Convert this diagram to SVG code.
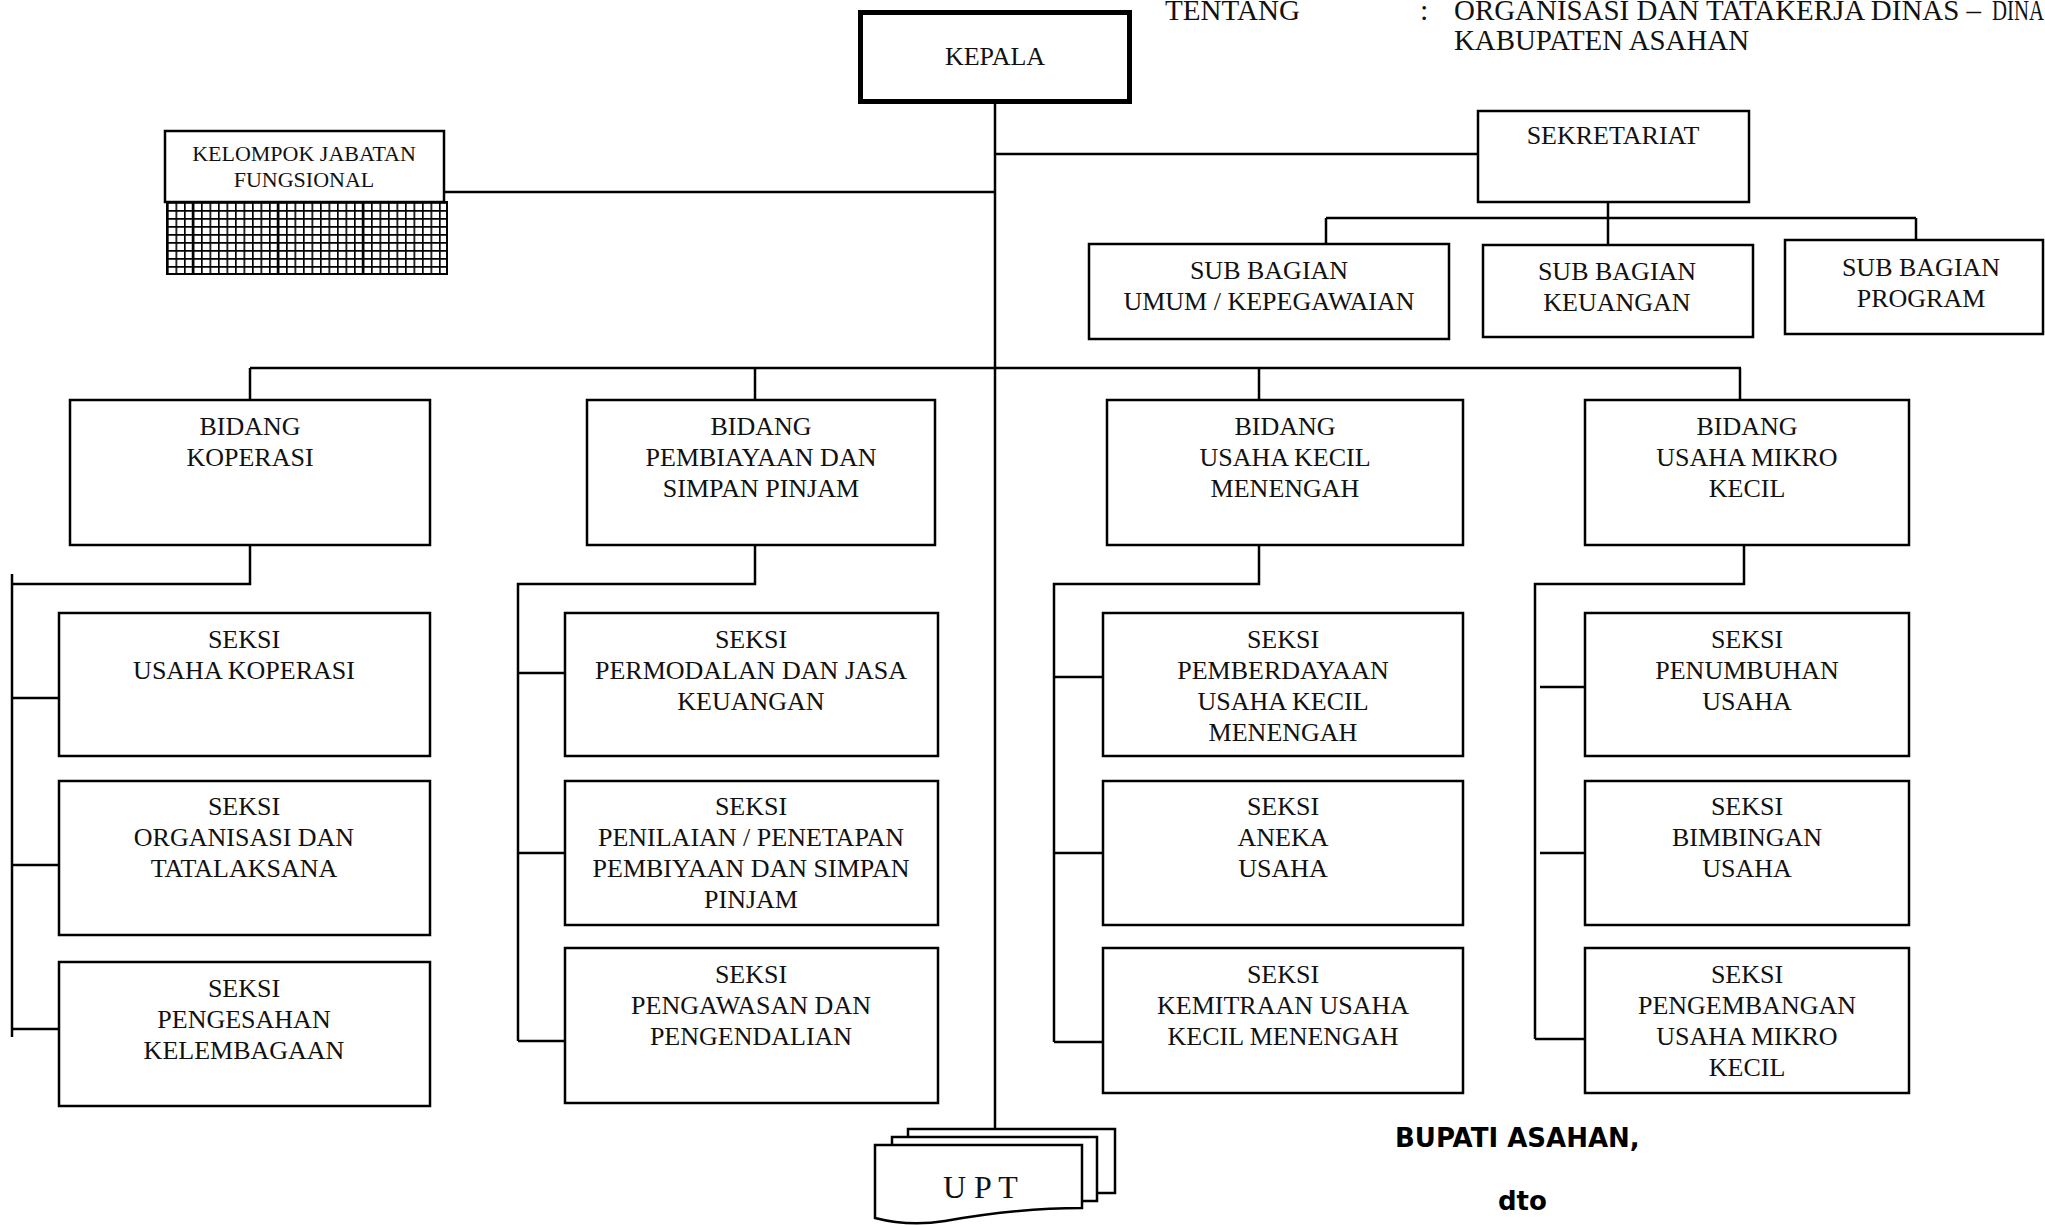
<svg xmlns="http://www.w3.org/2000/svg" width="2045" height="1225" viewBox="0 0 2045 1225">
  <defs>
    <style>
      .box { fill: #fff; stroke: #000; stroke-width: 2.5; }
      .ln { fill: none; stroke: #000; stroke-width: 2.5; }
      .t { font-family: "Liberation Serif", "Times New Roman", serif; font-size: 26px; fill: #111; text-anchor: middle; }
      .hd { font-family: "Liberation Serif", "Times New Roman", serif; font-size: 30px; fill: #111; }
      .sig { font-family: "DejaVu Sans", Verdana, sans-serif; font-size: 26px; font-weight: bold; fill: #000; }
    </style>
    <pattern id="grid" patternUnits="userSpaceOnUse" x="167" y="202" width="8.5" height="8">
      <rect width="8.5" height="8" fill="#fff"/>
      <path d="M0.8 0 V8 M0 0.8 H8.5" stroke="#000" stroke-width="1.7"/>
    </pattern>
  </defs>
  <rect width="2045" height="1225" fill="#fff"/>

  <!-- heading text at top right -->
  <g id="heading">
    <text class="hd" x="1165" y="20" textLength="135" lengthAdjust="spacingAndGlyphs">TENTANG</text>
    <text class="hd" x="1420" y="20">:</text>
    <text class="hd" x="1454" y="20" textLength="527" lengthAdjust="spacingAndGlyphs">ORGANISASI DAN TATAKERJA DINAS –</text>
    <text class="hd" x="1992" y="20" textLength="52" lengthAdjust="spacingAndGlyphs">DINA</text>
    <text class="hd" x="1454" y="50" textLength="295" lengthAdjust="spacingAndGlyphs">KABUPATEN ASAHAN</text>
  </g>

  <!-- connectors -->
  <g id="connectors" class="ln">
    <path d="M995 102 V1129"/>
    <path d="M432 192 H995"/>
    <path d="M995 154 H1478"/>
    <path d="M1608 202 V218 M1326 218 H1916 M1326 218 V244 M1608 218 V245 M1916 218 V240"/>
    <path d="M250 368 H1741 M250 368 V400 M755 368 V400 M1259 368 V400 M1740 368 V400"/>
    <path d="M250 545 V584 H12 M12 574 V1037 M12 698 H59 M12 865 H59 M12 1029 H59"/>
    <path d="M755 545 V584 H518 V1041 M518 673 H568 M518 853 H568 M518 1041 H568"/>
    <path d="M1259 545 V584 H1054 V1042 M1054 677 H1103 M1054 853 H1103 M1054 1042 H1103"/>
    <path d="M1744 545 V584 H1535 V1039 M1540 687 H1588 M1540 853 H1588 M1535 1039 H1585"/>
  </g>

  <!-- head of office -->
  <g id="kepala">
    <rect x="860.5" y="12.5" width="269" height="89" fill="#fff" stroke="#000" stroke-width="5"/>
    <text class="t" x="995" y="65">KEPALA</text>
  </g>

  <!-- functional group with hatched block -->
  <g id="kelompok-jabatan-fungsional">
    <rect x="167" y="202" width="280" height="72" fill="url(#grid)" stroke="#000" stroke-width="2"/>
    <path d="M193 202 V274 M278 202 V274 M363 202 V274" stroke="#000" stroke-width="2.5"/>
    <rect class="box" x="165" y="131" width="279" height="71"/>
    <text class="t" style="font-size:22px" x="304" y="161">KELOMPOK JABATAN<tspan x="304" dy="26">FUNGSIONAL</tspan></text>
  </g>

  <!-- secretariat -->
  <g id="sekretariat">
    <rect class="box" x="1478" y="111" width="271" height="91"/>
    <text class="t" x="1613" y="144">SEKRETARIAT</text>
  </g>
  <g id="subbag-umum">
    <rect class="box" x="1089" y="244" width="360" height="95"/>
    <text class="t" x="1269" y="279">SUB BAGIAN<tspan x="1269" dy="31">UMUM / KEPEGAWAIAN</tspan></text>
  </g>
  <g id="subbag-keuangan">
    <rect class="box" x="1483" y="245" width="270" height="92"/>
    <text class="t" x="1617" y="280">SUB BAGIAN<tspan x="1617" dy="31">KEUANGAN</tspan></text>
  </g>
  <g id="subbag-program">
    <rect class="box" x="1785" y="240" width="258" height="94"/>
    <text class="t" x="1921" y="276">SUB BAGIAN<tspan x="1921" dy="31">PROGRAM</tspan></text>
  </g>

  <!-- bidang: koperasi -->
  <g id="bidang-koperasi">
    <rect class="box" x="70" y="400" width="360" height="145"/>
    <text class="t" x="250" y="435">BIDANG<tspan x="250" dy="31">KOPERASI</tspan></text>
  </g>
  <g id="seksi-usaha-koperasi">
    <rect class="box" x="59" y="613" width="371" height="143"/>
    <text class="t" x="244" y="648">SEKSI<tspan x="244" dy="31">USAHA KOPERASI</tspan></text>
  </g>
  <g id="seksi-organisasi">
    <rect class="box" x="59" y="781" width="371" height="154"/>
    <text class="t" x="244" y="815">SEKSI<tspan x="244" dy="31">ORGANISASI DAN</tspan><tspan x="244" dy="31">TATALAKSANA</tspan></text>
  </g>
  <g id="seksi-pengesahan">
    <rect class="box" x="59" y="962" width="371" height="144"/>
    <text class="t" x="244" y="997">SEKSI<tspan x="244" dy="31">PENGESAHAN</tspan><tspan x="244" dy="31">KELEMBAGAAN</tspan></text>
  </g>

  <!-- bidang: pembiayaan dan simpan pinjam -->
  <g id="bidang-pembiayaan">
    <rect class="box" x="587" y="400" width="348" height="145"/>
    <text class="t" x="761" y="435">BIDANG<tspan x="761" dy="31">PEMBIAYAAN DAN</tspan><tspan x="761" dy="31">SIMPAN PINJAM</tspan></text>
  </g>
  <g id="seksi-permodalan">
    <rect class="box" x="565" y="613" width="373" height="143"/>
    <text class="t" x="751" y="648">SEKSI<tspan x="751" dy="31">PERMODALAN DAN JASA</tspan><tspan x="751" dy="31">KEUANGAN</tspan></text>
  </g>
  <g id="seksi-penilaian">
    <rect class="box" x="565" y="781" width="373" height="144"/>
    <text class="t" x="751" y="815">SEKSI<tspan x="751" dy="31">PENILAIAN / PENETAPAN</tspan><tspan x="751" dy="31">PEMBIYAAN DAN SIMPAN</tspan><tspan x="751" dy="31">PINJAM</tspan></text>
  </g>
  <g id="seksi-pengawasan">
    <rect class="box" x="565" y="948" width="373" height="155"/>
    <text class="t" x="751" y="983">SEKSI<tspan x="751" dy="31">PENGAWASAN DAN</tspan><tspan x="751" dy="31">PENGENDALIAN</tspan></text>
  </g>

  <!-- bidang: usaha kecil menengah -->
  <g id="bidang-ukm">
    <rect class="box" x="1107" y="400" width="356" height="145"/>
    <text class="t" x="1285" y="435">BIDANG<tspan x="1285" dy="31">USAHA KECIL</tspan><tspan x="1285" dy="31">MENENGAH</tspan></text>
  </g>
  <g id="seksi-pemberdayaan">
    <rect class="box" x="1103" y="613" width="360" height="143"/>
    <text class="t" x="1283" y="648">SEKSI<tspan x="1283" dy="31">PEMBERDAYAAN</tspan><tspan x="1283" dy="31">USAHA KECIL</tspan><tspan x="1283" dy="31">MENENGAH</tspan></text>
  </g>
  <g id="seksi-aneka-usaha">
    <rect class="box" x="1103" y="781" width="360" height="144"/>
    <text class="t" x="1283" y="815">SEKSI<tspan x="1283" dy="31">ANEKA</tspan><tspan x="1283" dy="31">USAHA</tspan></text>
  </g>
  <g id="seksi-kemitraan">
    <rect class="box" x="1103" y="948" width="360" height="145"/>
    <text class="t" x="1283" y="983">SEKSI<tspan x="1283" dy="31">KEMITRAAN USAHA</tspan><tspan x="1283" dy="31">KECIL MENENGAH</tspan></text>
  </g>

  <!-- bidang: usaha mikro kecil -->
  <g id="bidang-umk">
    <rect class="box" x="1585" y="400" width="324" height="145"/>
    <text class="t" x="1747" y="435">BIDANG<tspan x="1747" dy="31">USAHA MIKRO</tspan><tspan x="1747" dy="31">KECIL</tspan></text>
  </g>
  <g id="seksi-penumbuhan">
    <rect class="box" x="1585" y="613" width="324" height="143"/>
    <text class="t" x="1747" y="648">SEKSI<tspan x="1747" dy="31">PENUMBUHAN</tspan><tspan x="1747" dy="31">USAHA</tspan></text>
  </g>
  <g id="seksi-bimbingan">
    <rect class="box" x="1585" y="781" width="324" height="144"/>
    <text class="t" x="1747" y="815">SEKSI<tspan x="1747" dy="31">BIMBINGAN</tspan><tspan x="1747" dy="31">USAHA</tspan></text>
  </g>
  <g id="seksi-pengembangan">
    <rect class="box" x="1585" y="948" width="324" height="145"/>
    <text class="t" x="1747" y="983">SEKSI<tspan x="1747" dy="31">PENGEMBANGAN</tspan><tspan x="1747" dy="31">USAHA MIKRO</tspan><tspan x="1747" dy="31">KECIL</tspan></text>
  </g>

  <!-- UPT: stacked document sheets -->
  <g id="upt">
    <rect class="box" x="908" y="1129" width="207" height="64"/>
    <rect class="box" x="892" y="1137" width="205" height="64"/>
    <path class="box" d="M875 1145 H1082 V1208 C1030 1208 985 1214 945 1221 C920 1225 898 1224 875 1218 Z"/>
    <text x="943" y="1198" style="font-family:'Liberation Serif','Times New Roman',serif;font-size:32px;fill:#111">U P T</text>
  </g>

  <!-- signature block -->
  <g id="signature">
    <text class="sig" x="1395" y="1147">BUPATI ASAHAN,</text>
    <text class="sig" x="1498" y="1210">dto</text>
  </g>
</svg>
